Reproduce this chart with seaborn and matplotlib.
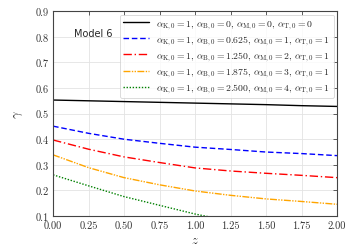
import numpy as np
import pandas as pd
import matplotlib
matplotlib.use("Agg")
import matplotlib.pyplot as plt
import seaborn as sns

z = [0.0, 0.25, 0.5, 0.75, 1.0, 1.25, 1.5, 1.75, 2.0]
gamma_1 = [0.553, 0.550, 0.547, 0.544, 0.541, 0.538, 0.535, 0.531, 0.528]
gamma_2 = [0.451, 0.423, 0.400, 0.384, 0.369, 0.360, 0.350, 0.344, 0.336]
gamma_3 = [0.397, 0.361, 0.331, 0.309, 0.288, 0.276, 0.267, 0.259, 0.250]
gamma_4 = [0.339, 0.289, 0.250, 0.222, 0.198, 0.181, 0.167, 0.157, 0.146]
z_5 = [0.0, 0.25, 0.5, 0.75, 1.0, 1.25]
gamma_5 = [0.261, 0.218, 0.176, 0.142, 0.108, 0.080]

labels = [
    r"$\alpha_{\rm K,0}=1,\,\alpha_{\rm B,0}=0,\,\alpha_{\rm M,0}=0,\,\alpha_{\rm T,0}=0$",
    r"$\alpha_{\rm K,0}=1,\,\alpha_{\rm B,0}=0.625,\,\alpha_{\rm M,0}=1,\,\alpha_{\rm T,0}=1$",
    r"$\alpha_{\rm K,0}=1,\,\alpha_{\rm B,0}=1.250,\,\alpha_{\rm M,0}=2,\,\alpha_{\rm T,0}=1$",
    r"$\alpha_{\rm K,0}=1,\,\alpha_{\rm B,0}=1.875,\,\alpha_{\rm M,0}=3,\,\alpha_{\rm T,0}=1$",
    r"$\alpha_{\rm K,0}=1,\,\alpha_{\rm B,0}=2.500,\,\alpha_{\rm M,0}=4,\,\alpha_{\rm T,0}=1$",
]
colors = ["black", "blue", "red", "orange", "green"]
styles = ["-", (0, (4, 2)), (0, (6, 2, 1, 2)), (0, (5, 1, 1, 1, 1, 1)), (0, (1, 1.2))]

sns.set_style("whitegrid")
plt.rcParams.update({
    "font.family": "serif",
    "font.serif": ["cmr10"],
    "mathtext.fontset": "cm",
    "axes.formatter.use_mathtext": True,
    "axes.edgecolor": "#444444",
    "grid.color": "#e3e3e3",
    "grid.linewidth": 0.6,
})

fig, ax = plt.subplots(figsize=(3.54, 2.53), dpi=100)

series = [(z, gamma_1), (z, gamma_2), (z, gamma_3), (z, gamma_4), (z_5, gamma_5)]
for (xs, ys), lab, c, ls in zip(series, labels, colors, styles):
    df = pd.DataFrame({"z": xs, "gamma": ys})
    sns.lineplot(data=df, x="z", y="gamma", ax=ax, color=c, label=lab, linewidth=1.0)
    ax.lines[-1].set_linestyle(ls)

ax.set_xlim(0, 2)
ax.set_ylim(0.1, 0.9)
ax.set_xticks(np.arange(0, 2.01, 0.25))
ax.set_xticklabels([f"{v:.2f}" for v in np.arange(0, 2.01, 0.25)])
ax.set_yticks(np.arange(0.1, 0.91, 0.1))
ax.set_yticklabels([f"{v:.1f}" for v in np.arange(0.1, 0.91, 0.1)])
ax.tick_params(direction="in", top=True, right=True, length=3, width=0.6,
               labelsize=7.5, colors="#444444", labelcolor="#333333", pad=3)
for sp in ax.spines.values():
    sp.set_linewidth(0.8)
ax.set_xlabel(r"$z$", fontsize=9, labelpad=3)
ax.set_ylabel(r"$\gamma$", fontsize=9, labelpad=8)

ax.text(0.28, 0.815, "Model 6", fontsize=7, family="DejaVu Sans", ha="center", va="center")

leg = ax.legend(loc="upper right", fontsize=7, frameon=True, handlelength=2.6,
                borderpad=0.35, labelspacing=0.22, handletextpad=0.8, borderaxespad=0.35)
leg.get_frame().set_edgecolor("#cccccc")
leg.get_frame().set_linewidth(0.6)

fig.subplots_adjust(left=0.15, right=0.952, top=0.952, bottom=0.142)
fig.savefig("out.png", dpi=100)
